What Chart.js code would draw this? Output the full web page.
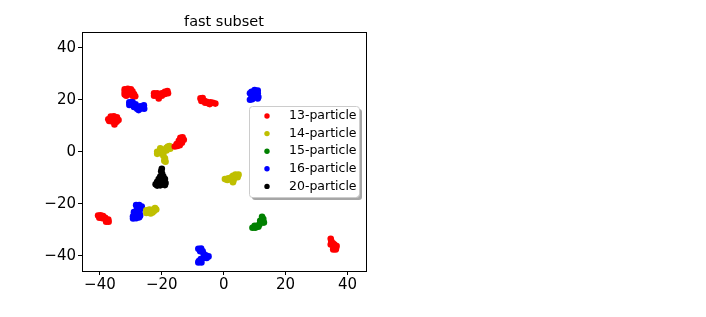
<!DOCTYPE html>
<html>
<head>
<meta charset="utf-8">
<script src="https://cdn.jsdelivr.net/npm/chart.js@4/dist/chart.umd.min.js"></script>
<style>
  body { margin: 0; background: #fff; }
  #wrap { width: 706px; height: 317px; }
</style>
</head>
<body>
<div id="wrap"><canvas id="chart" width="706" height="317"></canvas></div>
<script>
// categories and colours
const title = 'fast subset';
const labels = ['13-particle', '14-particle', '15-particle', '16-particle', '20-particle'];
const colors = ['#ff0000', '#bfbf00', '#008000', '#0000ff', '#000000'];
const xTicks = [-40, -20, 0, 20, 40];
const yTicks = [-40, -20, 0, 20, 40];

// points, [x, y]
const red13 = [
  [-32,24],[-31,24.2],[-30,24],[-29.5,23.2],[-32,23],[-31,23],[-30,23],[-32,22],[-31,22],[-30,22.2],[-29,22.2],[-28.6,21.3],[-29.5,21.5],[-31.5,21.5],
  [-22.5,22.5],[-22.5,21.5],[-21.5,22.5],[-21.5,21.5],[-21,20.5],[-20.5,21.7],[-20,22.5],[-19,23],[-18.2,23.3],[-18,22.5],[-19,22.2],[-20,21.5],
  [-7.5,20.5],[-6.8,20.6],[-7.2,19.5],[-6.3,19.6],[-5.5,19.2],[-5,18.6],[-4.3,19],[-3.5,18.8],[-2.7,18.5],[-4.5,18.3],[-6,18.8],
  [-37.3,12.5],[-36.5,13.5],[-35.5,13.6],[-34.5,13.2],[-34,12.2],[-35,12.5],[-36,12.5],[-37,11.8],[-36,11.6],[-35,11.5],[-35.3,10.5],[-34.6,11.5],
  [-15.8,2],[-15,2.2],[-15.2,3],[-14.5,3.2],[-14.5,4.2],[-13.8,4.5],[-14,5.4],[-13.3,5.6],[-12.9,4.6],[-13.5,3.5],[-14.2,2.5],
  [-40.6,-24.5],[-39.8,-24.4],[-39,-24.7],[-40.2,-25.3],[-39.2,-25.5],[-38.3,-25.4],[-38,-26.2],[-37.3,-26],[-37.2,-26.9],[-38,-26.9],
  [34.6,-33.4],[34.8,-34.4],[35.3,-35.2],[34.6,-35.6],[35.8,-35.6],[36.5,-36.2],[35.5,-36.5],[36.3,-37.2],[35.4,-37.5],[36.2,-37.5]
];
const yellow14 = [
  [-21.5,0],[-21.5,-0.8],[-20.5,0.5],[-20.5,-0.6],[-19.5,0.8],[-19.5,-0.3],[-18.5,1.5],[-18.5,0.5],[-17.5,2.2],[-17.3,1.2],[-18,2],[-19.5,-1.5],[-19,-2.5],[-19.2,-3.5],[-18.8,-3.8],[-20.5,1.3],
  [0.4,-10.5],[1.2,-10.8],[2,-10.5],[2.5,-9.8],[3,-9.2],[3.8,-8.8],[4.8,-8.8],[4.5,-9.8],[3.5,-10],[3.2,-10.8],[3,-11.7],[1.5,-10.2],
  [-25,-22.5],[-25,-23.5],[-24,-22.2],[-24,-23.2],[-23.6,-23.7],[-23,-22.3],[-23,-23.3],[-22.2,-21.6],[-21.8,-22.2],[-22.5,-22.8]
];
const green15 = [
  [9.3,-29.2],[10.2,-29.2],[10.5,-28.5],[11.2,-28.8],[11.5,-28],[12,-27.3],[12.5,-26.6],[13,-27.2],[12.8,-25.8],[12.4,-25],[11.8,-26.5],[10,-28.4]
];
const blue16 = [
  [-30.5,19],[-29.5,19.2],[-30.5,18],[-29.5,18],[-28.5,18.2],[-29,17.2],[-28,17],[-27,16.5],[-27,17.5],[-26,16.8],[-25.8,17.8],[-25.7,16.5],[-28,16.5],[-27.5,16],
  [9,23],[10,23.7],[11,23.5],[10,22.5],[11,22.5],[9.5,22],[8.5,22.5],[9,21],[8.5,20],[9.2,20.2],[10.5,21.2],[11.2,21],[11,20.5],[10,21.5],
  [-28.3,-20.5],[-27.3,-20.5],[-26.5,-21],[-27,-22],[-28,-21.8],[-28,-23],[-29,-23.2],[-27.2,-23.5],[-28.5,-24.2],[-29.3,-24.8],[-28.3,-25.5],[-27.3,-25.2],[-27,-24.5],[-29.3,-25.6],
  [-8.2,-37.3],[-7.3,-37.2],[-6.8,-38.2],[-7.6,-38.2],[-6.5,-39.2],[-5.8,-39.8],[-4.9,-40.2],[-5.5,-40.8],[-6.5,-40.8],[-7.4,-41.2],[-8,-42],[-7.2,-42.5],[-8.2,-42.5]
];
const black20 = [
  [-20,-6.5],[-20.2,-7.5],[-19.9,-8.5],[-20.5,-9.5],[-19.5,-9.5],[-21,-10.5],[-20,-10.5],[-19,-10.5],[-21.5,-11.5],[-20.5,-11.5],[-19.5,-11.5],[-18.8,-12],
  [-22,-12.5],[-21,-12.5],[-20,-12.5],[-19,-12.8],[-21.5,-13],[-20.5,-12.9]
];
const series = [red13, yellow14, green15, blue16, black20];

const FONT = 'DejaVu Sans';
const fmt = v => (v < 0 ? '\u2212' + Math.abs(v) : String(v));

// frame round the plot area, plus the title centred over it
const framePlugin = {
  id: 'frame',
  afterDraw(chart) {
    const a = chart.chartArea, ctx = chart.ctx;
    ctx.save();
    ctx.strokeStyle = '#000';
    ctx.lineWidth = 1;
    ctx.strokeRect(Math.round(a.left) + 0.5, Math.round(a.top) + 0.5,
      Math.round(a.right - a.left), Math.round(a.bottom - a.top));
    ctx.fillStyle = '#000';
    ctx.font = '14.5px "' + FONT + '"';
    ctx.textAlign = 'center';
    ctx.textBaseline = 'middle';
    ctx.fillText(title, (a.left + a.right) / 2, a.top - 10);
    ctx.restore();
  }
};

// matplotlib-like legend with shadow inside the plot
const legendPlugin = {
  id: 'boxLegend',
  afterDraw(chart) {
    const a = chart.chartArea, ctx = chart.ctx;
    const left = a.right - 117, top = a.top + 74, w = 110, h = 91;
    ctx.save();
    const box = (x, y) => {
      ctx.beginPath();
      ctx.roundRect(x, y, w, h, 3);
    };
    ctx.fillStyle = 'rgba(0,0,0,0.35)';
    box(left + 3, top + 3); ctx.fill();
    ctx.fillStyle = '#fff';
    box(left, top); ctx.fill();
    ctx.strokeStyle = '#cccccc';
    ctx.lineWidth = 1;
    box(left + 0.5, top + 0.5); ctx.stroke();
    ctx.font = '12.5px "' + FONT + '"';
    ctx.textBaseline = 'middle';
    chart.data.datasets.forEach((ds, i) => {
      const y = top + 10 + i * 17.6;
      ctx.fillStyle = ds.backgroundColor;
      ctx.beginPath();
      ctx.arc(left + 18, y, 2.7, 0, Math.PI * 2);
      ctx.fill();
      ctx.fillStyle = '#000';
      ctx.fillText(ds.label, left + 40, y);
    });
    ctx.restore();
  }
};

new Chart(document.getElementById('chart'), {
  type: 'scatter',
  data: {
    datasets: labels.map((l, i) => ({
      label: l,
      data: series[i].map(p => ({ x: p[0], y: p[1] })),
      backgroundColor: colors[i],
      borderWidth: 0,
      pointRadius: 3.3
    }))
  },
  options: {
    responsive: false,
    animation: false,
    events: [],
    layout: { padding: { left: 0, right: 340, top: 32, bottom: 0 } },
    plugins: {
      legend: { display: false },
      tooltip: { enabled: false },
      title: { display: false }
    },
    scales: {
      x: {
        type: 'linear',
        min: -45.8, max: 46,
        afterBuildTicks: s => { s.ticks = xTicks.map(v => ({ value: v })); },
        afterFit: s => { s.height = 46; },
        ticks: { callback: fmt, color: '#000', padding: 1, maxRotation: 0, font: { family: FONT, size: 15 } },
        grid: { drawOnChartArea: false, tickLength: 4, color: '#000' },
        border: { display: false }
      },
      y: {
        type: 'linear',
        min: -45.8, max: 46,
        afterBuildTicks: s => { s.ticks = yTicks.map(v => ({ value: v })); },
        afterFit: s => { s.width = 82; },
        ticks: { callback: fmt, color: '#000', padding: 2, font: { family: FONT, size: 15 } },
        grid: { drawOnChartArea: false, tickLength: 4, color: '#000' },
        border: { display: false }
      }
    }
  },
  plugins: [framePlugin, legendPlugin]
});
</script>
</body>
</html>
